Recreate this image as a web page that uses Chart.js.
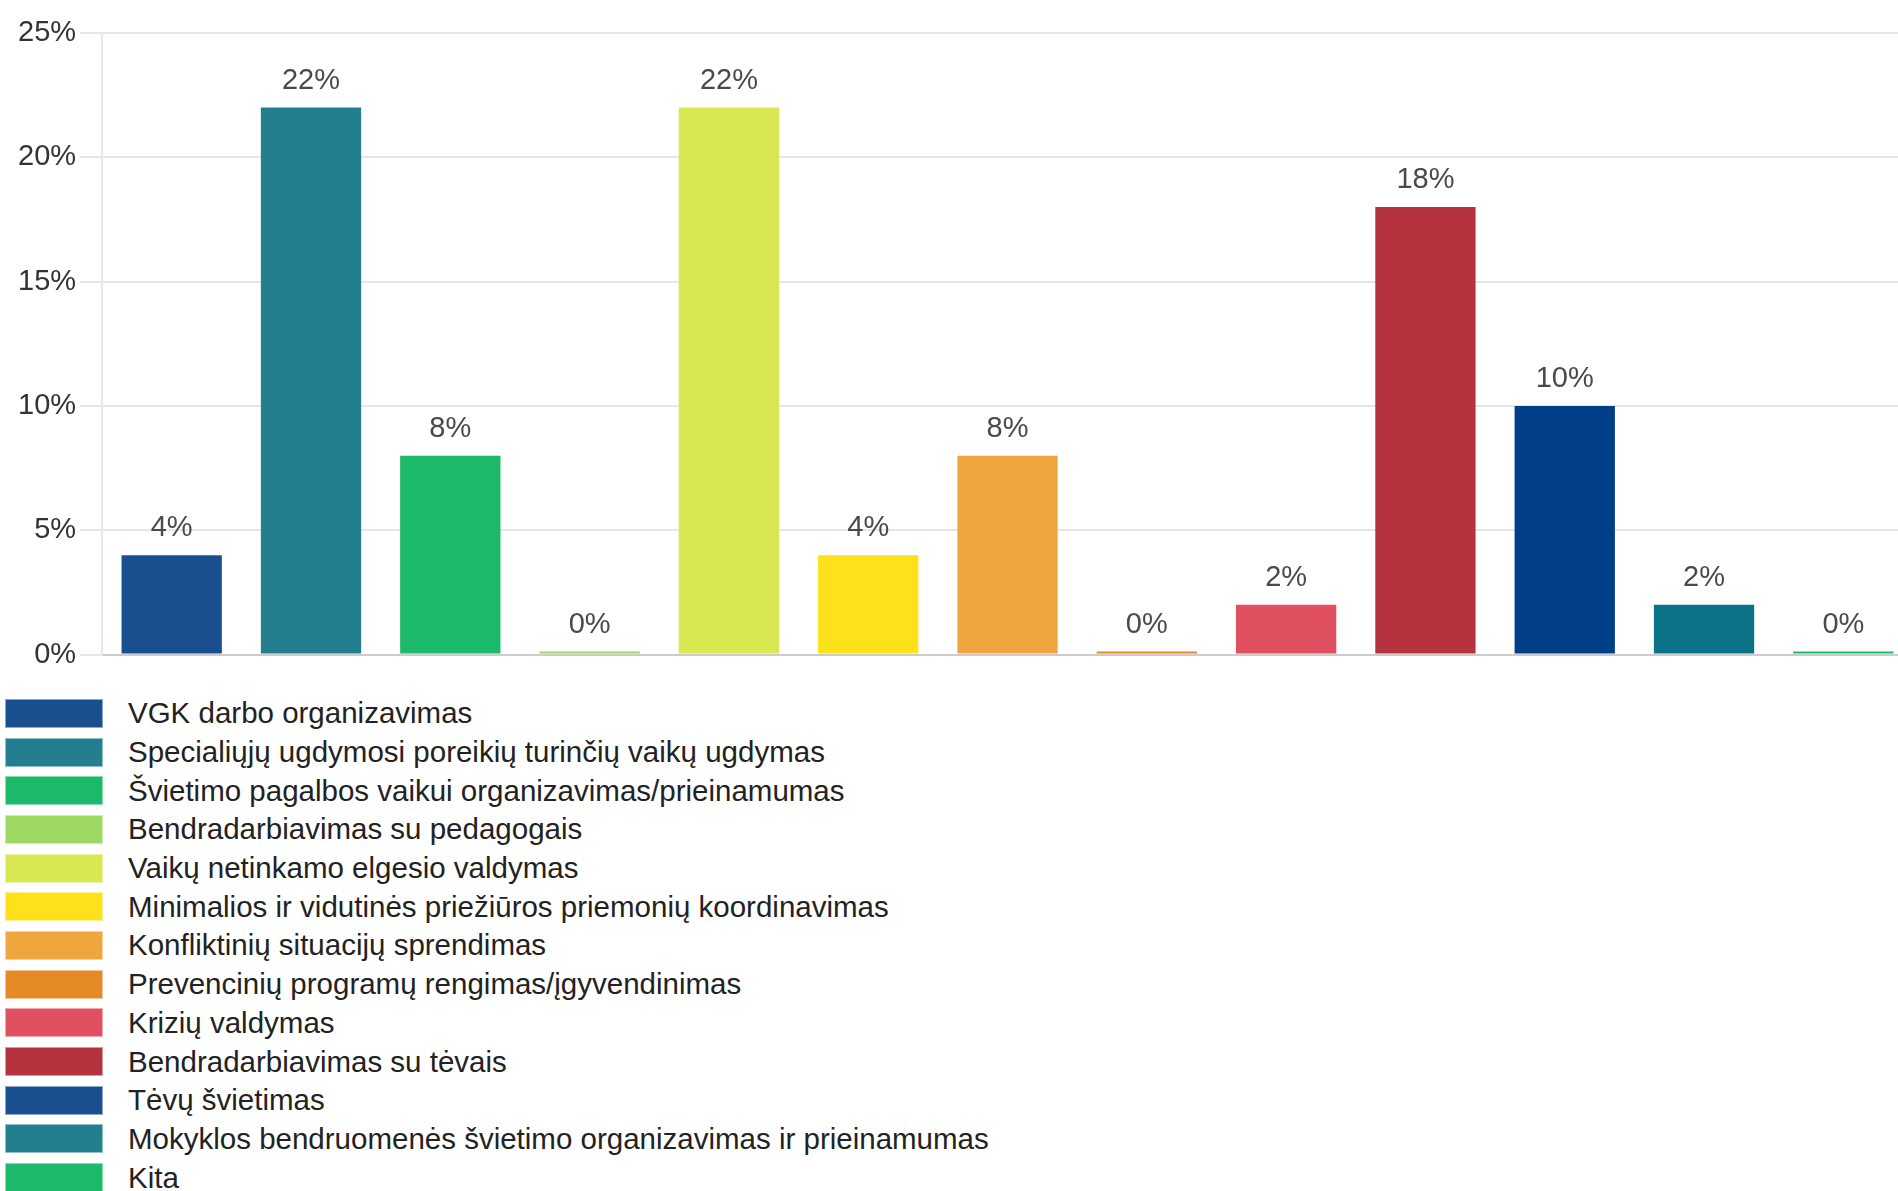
<!DOCTYPE html>
<html>
<head>
<meta charset="utf-8">
<script src="https://cdn.jsdelivr.net/npm/chart.js@4.4.0/dist/chart.umd.min.js"></script>
<style>
    body { margin: 0; background: #fff; font-family: "Liberation Sans", Arial, sans-serif; overflow: hidden; }
    #wrap { position: relative; width: 1913px; height: 676px; }
    #legend { list-style: none; margin: 0; padding: 0; position: absolute; left: 5px; top: 694px; }
    #legend li { height: 38.7px; display: flex; align-items: center; font-size: 29.5px; color: #222; white-space: nowrap; }
    #legend li span { display: inline-block; width: 98px; height: 29px; margin-right: 25px; box-sizing: border-box; border: 1px solid rgba(255,255,255,0.5); }
</style>
</head>
<body>
<div id="wrap"><canvas id="chartCanvas"></canvas></div>
<ul id="legend"></ul>
<script>
const categories = [
    'VGK darbo organizavimas',
    'Specialiųjų ugdymosi poreikių turinčių vaikų ugdymas',
    'Švietimo pagalbos vaikui organizavimas/prieinamumas',
    'Bendradarbiavimas su pedagogais',
    'Vaikų netinkamo elgesio valdymas',
    'Minimalios ir vidutinės priežiūros priemonių koordinavimas',
    'Konfliktinių situacijų sprendimas',
    'Prevencinių programų rengimas/įgyvendinimas',
    'Krizių valdymas',
    'Bendradarbiavimas su tėvais',
    'Tėvų švietimas',
    'Mokyklos bendruomenės švietimo organizavimas ir prieinamumas',
    'Kita'
];
const percentValues = [4, 22, 8, 0, 22, 4, 8, 0, 2, 18, 10, 2, 0];
const barColors = ['#1a4f8f', '#237f90', '#1cb96b', '#9dd862', '#d9e752', '#fde11b', '#f0a63e',
                   '#e68a26', '#e05061', '#b5333f', '#003f87', '#0b7387', '#1cb96b'];
const legendColors = ['#1a4f8f', '#237f90', '#1cb96b', '#9dd862', '#d9e752', '#fde11b', '#f0a63e',
                      '#e68a26', '#e05061', '#b5333f', '#1a4f8f', '#237f90', '#1cb96b'];
const yTicks = [0, 5, 10, 15, 20, 25];

const FONT = '"Liberation Sans", Arial, sans-serif';

// value labels above each bar
const barLabels = {
    id: 'barLabels',
    afterDatasetsDraw(chart) {
        const c = chart.ctx;
        const meta = chart.getDatasetMeta(0);
        c.save();
        c.font = '29px ' + FONT;
        c.fillStyle = '#4a4a4a';
        c.textAlign = 'center';
        c.textBaseline = 'middle';
        meta.data.forEach((bar, i) => {
            c.fillText(percentValues[i] + '%', bar.x, bar.y - 27);
        });
        c.restore();
    }
};

const chart = new Chart(document.getElementById('chartCanvas'), {
    type: 'bar',
    data: {
        labels: categories,
        datasets: [{
            data: percentValues,
            backgroundColor: barColors,
            minBarLength: 3
        }]
    },
    options: {
        responsive: true,
        maintainAspectRatio: false,
        animation: false,
        events: [],
        layout: { padding: { top: 33, right: 0, bottom: 0, left: 14 } },
        scales: {
            x: {
                ticks: { display: false },
                grid: { display: false },
                border: { color: '#cccccc', width: 2 }
            },
            y: {
                min: 0,
                max: 25,
                afterBuildTicks(axis) { axis.ticks = yTicks.map(v => ({ value: v })); },
                ticks: {
                    callback: v => v + '%',
                    color: '#333',
                    padding: 4,
                    font: { family: FONT, size: 29 }
                },
                grid: { color: '#e6e6e6', lineWidth: 2, tickLength: 22 },
                border: { color: '#e6e6e6', width: 2 }
            }
        },
        plugins: {
            legend: { display: false },
            tooltip: { enabled: false }
        }
    },
    plugins: [barLabels]
});

// legend, one item per line
const legendEl = document.getElementById('legend');
categories.forEach((name, i) => {
    const li = document.createElement('li');
    const box = document.createElement('span');
    box.style.background = legendColors[i];
    li.appendChild(box);
    li.appendChild(document.createTextNode(name));
    legendEl.appendChild(li);
});
</script>
</body>
</html>
